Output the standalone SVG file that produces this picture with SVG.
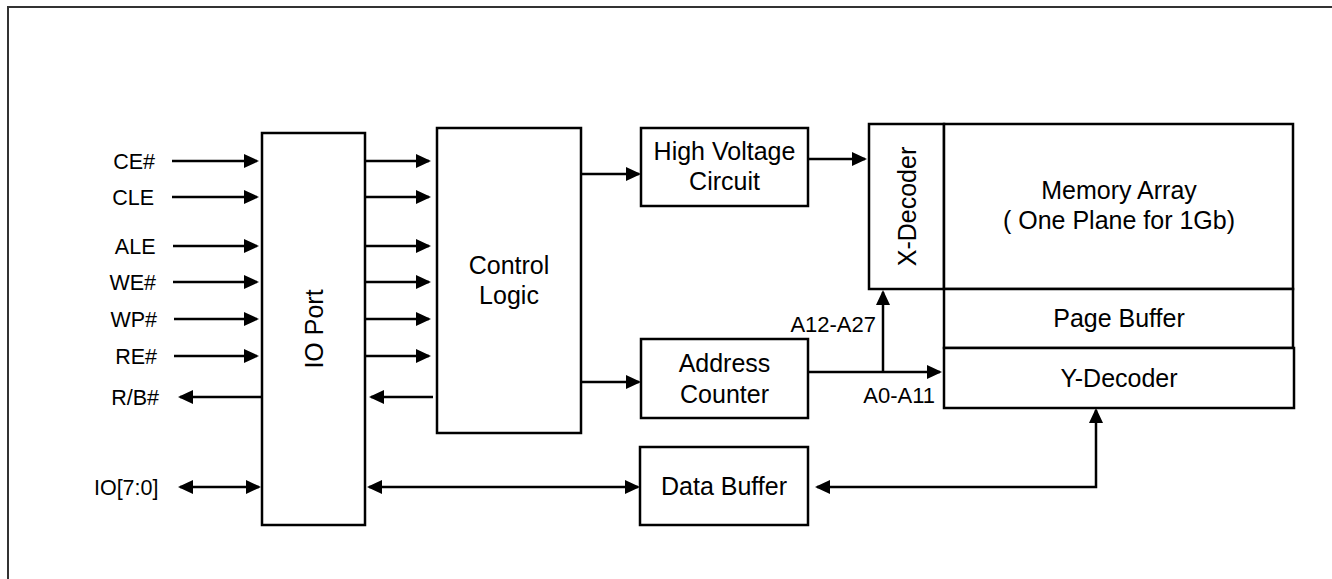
<svg xmlns="http://www.w3.org/2000/svg" width="1332" height="579" viewBox="0 0 1332 579">
<style>
  .box { fill: #fff; stroke: #000; stroke-width: 2.5; }
  .wire { fill: none; stroke: #000; stroke-width: 2.5; stroke-linecap: butt; }
  .arr { marker-end: url(#ah); }
  .dbl { marker-start: url(#ah); marker-end: url(#ah); }
  .lbl { font-family: "Liberation Sans", Arial, sans-serif; font-size: 25px; fill: #000; text-anchor: middle; }
  .sig { font-family: "Liberation Sans", Arial, sans-serif; font-size: 21.5px; fill: #000; text-anchor: end; }
  .addr { font-family: "Liberation Sans", Arial, sans-serif; font-size: 22px; fill: #000; text-anchor: end; }
</style>
<defs>
  <marker id="ah" viewBox="0 0 15 14" markerWidth="15" markerHeight="14" refX="13" refY="7" markerUnits="userSpaceOnUse" orient="auto-start-reverse">
    <path d="M0,0 L15,7 L0,14 z" fill="#000"/>
  </marker>
</defs>
<rect width="1332" height="579" fill="#fff"/>
<path d="M8,579 V7 H1332" fill="none" stroke="#333" stroke-width="2"/>

<g id="io-port">
  <rect class="box" x="262" y="133" width="103" height="392"/>
  <text class="lbl" transform="translate(322.5,329) rotate(-90)" x="0" y="0">IO Port</text>
</g>
<g id="control-logic">
  <rect class="box" x="437" y="128" width="144" height="305"/>
  <text class="lbl" x="509" y="274">Control</text>
  <text class="lbl" x="509" y="304">Logic</text>
</g>
<g id="high-voltage">
  <rect class="box" x="641" y="128" width="167" height="78"/>
  <text class="lbl" x="724.5" y="160">High Voltage</text>
  <text class="lbl" x="724.5" y="190">Circuit</text>
</g>
<g id="address-counter">
  <rect class="box" x="641" y="339" width="167" height="79"/>
  <text class="lbl" x="724.5" y="372">Address</text>
  <text class="lbl" x="724.5" y="403">Counter</text>
</g>
<g id="data-buffer">
  <rect class="box" x="640" y="447" width="168" height="78"/>
  <text class="lbl" x="724" y="495">Data Buffer</text>
</g>
<g id="x-decoder">
  <rect class="box" x="869" y="124" width="75" height="165"/>
  <text class="lbl" transform="translate(915.5,206.5) rotate(-90)" x="0" y="0">X-Decoder</text>
</g>
<g id="memory-array">
  <rect class="box" x="944" y="124" width="349" height="165"/>
  <text class="lbl" x="1119" y="199">Memory Array</text>
  <text class="lbl" x="1119" y="229">( One Plane for 1Gb)</text>
</g>
<g id="page-buffer">
  <rect class="box" x="944" y="289" width="349" height="59"/>
  <text class="lbl" x="1119" y="327">Page Buffer</text>
</g>
<g id="y-decoder">
  <rect class="box" x="944" y="348" width="350" height="60"/>
  <text class="lbl" x="1119" y="387">Y-Decoder</text>
</g>

<g id="signal-labels">
  <text class="sig" x="155" y="168.5">CE#</text>
  <text class="sig" x="154" y="204.5">CLE</text>
  <text class="sig" x="155.5" y="253.5">ALE</text>
  <text class="sig" x="156" y="289.5">WE#</text>
  <text class="sig" x="157" y="326.5">WP#</text>
  <text class="sig" x="157" y="363.5">RE#</text>
  <text class="sig" x="159" y="404.5">R/B#</text>
  <text class="sig" x="158.5" y="494.5">IO[7:0]</text>
  <text class="addr" x="876" y="332">A12-A27</text>
  <text class="addr" x="935" y="403">A0-A11</text>
</g>

<g id="connectors">
  <path class="wire arr" d="M172,161 H257"/>
  <path class="wire arr" d="M172,197 H257"/>
  <path class="wire arr" d="M173,246 H257"/>
  <path class="wire arr" d="M173,282 H257"/>
  <path class="wire arr" d="M174,319 H257"/>
  <path class="wire arr" d="M174,356 H257"/>
  <path class="wire arr" d="M262,397 H180"/>
  <path class="wire dbl" d="M180,487 H259"/>

  <path class="wire arr" d="M366,161 H429"/>
  <path class="wire arr" d="M366,197 H429"/>
  <path class="wire arr" d="M366,246 H429"/>
  <path class="wire arr" d="M366,282 H429"/>
  <path class="wire arr" d="M366,319 H429"/>
  <path class="wire arr" d="M366,356 H429"/>
  <path class="wire arr" d="M433,397 H371"/>
  <path class="wire dbl" d="M369,487 H638"/>

  <path class="wire arr" d="M581,174 H639"/>
  <path class="wire arr" d="M581,382 H639"/>
  <path class="wire arr" d="M808,159 H865"/>
  <path class="wire arr" d="M808,372 H940"/>
  <path class="wire arr" d="M883,372 V292"/>
  <path class="wire dbl" d="M817,487 H1096 V410"/>
</g>
</svg>
